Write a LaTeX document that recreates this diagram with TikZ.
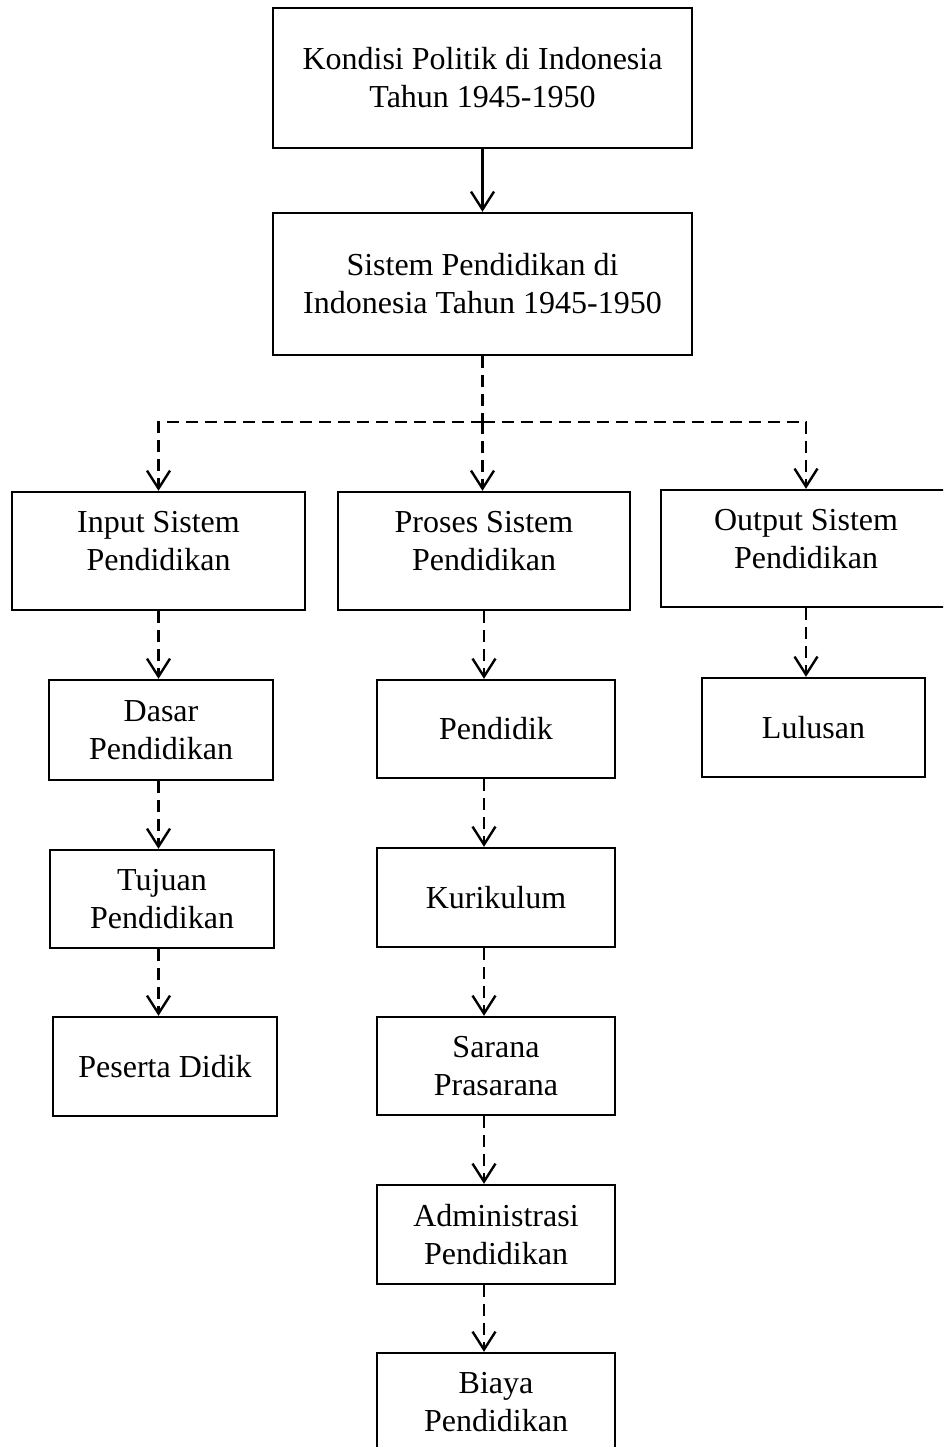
\documentclass[tikz,border=0pt]{standalone}
\usepackage{fontspec}
\setmainfont{Liberation Serif}
\usetikzlibrary{arrows.meta,positioning}

\begin{document}
\begin{tikzpicture}[
    x=1pt, y=-1pt,
    font=\fontsize{32}{38}\selectfont,
    box/.style={draw, line width=2.4pt, align=center, inner sep=0pt},
    up/.style={text depth=20pt},
    ar/.style={-{Straight Barb[length=18pt,width=23pt]}, line width=2.4pt},
    dar/.style={ar, dash pattern=on 12pt off 7pt},
  ]
    \useasboundingbox (0,0) rectangle (943,1447);
    \clip (0,0) rectangle (943,1447);

    \node[box, minimum width=419pt, minimum height=140pt] (kond) at (482.5,78) {Kondisi Politik di Indonesia\\Tahun 1945-1950};
    \node[box, minimum width=419pt, minimum height=142pt] (sis) at (482.5,284) {Sistem Pendidikan di\\Indonesia Tahun 1945-1950};

    \node[box, up, minimum width=293pt, minimum height=118pt] (in) at (158.5,551) {Input Sistem\\Pendidikan};
    \node[box, up, minimum width=292pt, minimum height=118pt] (pro) at (484,551) {Proses Sistem\\Pendidikan};
    \node[box, up, minimum width=290pt, minimum height=117pt] (out) at (806,548.5) {Output Sistem\\Pendidikan};

    % kolom input
    \node[box, minimum width=224pt, minimum height=100pt] (dasar) at (161,730) {Dasar\\Pendidikan};
    \node[box, minimum width=224pt, minimum height=98pt] (tuj) at (162,899) {Tujuan\\Pendidikan};
    \node[box, minimum width=224pt, minimum height=99pt] (pes) at (165,1066.5) {Peserta Didik};

    % kolom proses
    \node[box, minimum width=238pt, minimum height=98pt] (pen) at (496,729) {Pendidik};
    \node[box, minimum width=238pt, minimum height=99pt] (kur) at (496,897.5) {Kurikulum};
    \node[box, minimum width=238pt, minimum height=98pt] (sar) at (496,1066) {Sarana\\Prasarana};
    \node[box, minimum width=238pt, minimum height=99pt] (adm) at (496,1234.5) {Administrasi\\Pendidikan};
    \node[box, minimum width=238pt, minimum height=99pt] (bia) at (496,1402.5) {Biaya\\Pendidikan};

    % kolom output
    \node[box, minimum width=223pt, minimum height=99pt] (lul) at (813.5,727.5) {Lulusan};

    \draw[ar] (kond) -- (sis);
    \draw[line width=2.4pt, dash pattern=on 12pt off 7pt] (sis.south) -- ++(0,66) coordinate (br);
    \draw[dar] (br) -| (in.north);
    \draw[dar] (br) -- (br |- pro.north);
    \draw[dar] (br) -| (out.north);

    \draw[dar] (in.south) -- (in.south |- dasar.north);
    \draw[dar] (dasar.south -| in) -- (tuj.north -| in);
    \draw[dar] (tuj.south -| in) -- (pes.north -| in);

    \draw[dar] (pro.south) -- (pro.south |- pen.north);
    \draw[dar] (pen.south -| pro) -- (kur.north -| pro);
    \draw[dar] (kur.south -| pro) -- (sar.north -| pro);
    \draw[dar] (sar.south -| pro) -- (adm.north -| pro);
    \draw[dar] (adm.south -| pro) -- (bia.north -| pro);

    \draw[dar] (out.south) -- (out.south |- lul.north);
\end{tikzpicture}
\end{document}
